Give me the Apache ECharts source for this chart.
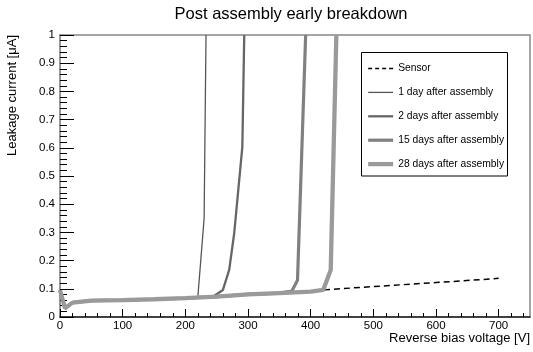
<!DOCTYPE html>
<html>
<head>
<meta charset="utf-8">
<script src="https://cdn.jsdelivr.net/npm/echarts@6/dist/echarts.min.js"></script>
<style>
  html, body { margin: 0; padding: 0; background: #fff; }
  #chart { width: 533px; height: 352px; }
</style>
</head>
<body>
<div id="chart"></div>
<script>
// Reverse bias voltage [V] and leakage current [uA] per measurement
const sensorV = [0, 8, 20, 50, 100, 150, 200, 250, 300, 350, 400, 420, 500, 600, 700];
const sensorI = [0.095, 0.031, 0.051, 0.058, 0.06, 0.063, 0.067, 0.072, 0.08, 0.085, 0.09, 0.096, 0.108, 0.122, 0.137];

const day1V = [0, 8, 20, 50, 100, 150, 200, 220, 230, 233];
const day1I = [0.095, 0.031, 0.051, 0.058, 0.06, 0.063, 0.067, 0.072, 0.35, 1.0];

const day2V = [0, 8, 20, 50, 100, 150, 200, 244, 260, 270, 278, 291, 294];
const day2I = [0.095, 0.031, 0.051, 0.058, 0.06, 0.063, 0.067, 0.072, 0.096, 0.167, 0.297, 0.604, 1.0];

const day15V = [0, 8, 20, 50, 100, 150, 200, 250, 300, 350, 370, 379, 392];
const day15I = [0.095, 0.031, 0.051, 0.058, 0.06, 0.063, 0.067, 0.072, 0.08, 0.085, 0.092, 0.13, 1.0];

const day28V = [0, 8, 20, 50, 100, 150, 200, 250, 300, 350, 400, 420, 432, 441];
const day28I = [0.095, 0.031, 0.051, 0.058, 0.06, 0.063, 0.067, 0.072, 0.08, 0.085, 0.09, 0.096, 0.167, 1.0];

// tick positions
const xMajorTicks = [0, 100, 200, 300, 400, 500, 600, 700];
const xMinorTicks = [20, 40, 60, 80, 120, 140, 160, 180, 220, 240, 260, 280, 320, 340, 360, 380,
  420, 440, 460, 480, 520, 540, 560, 580, 620, 640, 660, 680, 720, 740];

const seriesNames = ["Sensor", "1 day after assembly", "2 days after assembly", "15 days after assembly", "28 days after assembly"];
const seriesColors = ["#000", "#555", "#666", "#808080", "#9a9a9a"];
const seriesWidths = [1.5, 1.3, 2.3, 3.2, 4.3];

const pairs = (xs, ys) => xs.map((x, i) => [x, ys[i]]);

const chart = echarts.init(document.getElementById("chart"));

const lineSeries = (idx, data, type) => ({
  name: seriesNames[idx],
  type: "line",
  xAxisIndex: 0,
  data: data,
  symbol: "none",
  clip: true,
  lineStyle: { color: seriesColors[idx], width: seriesWidths[idx], type: type || "solid" },
  itemStyle: { color: seriesColors[idx] },
});

chart.setOption({
  animation: false,
  textStyle: { fontFamily: "Liberation Sans, Arial, sans-serif" },
  title: {
    text: "Post assembly early breakdown",
    left: 286,
    textAlign: "center",
    top: 1,
    textStyle: { fontSize: 16.5, fontWeight: "normal", color: "#000" },
  },
  grid: {
    left: 60,
    right: 2,
    top: 35,
    bottom: 35,
    show: true,
    borderColor: "#888",
    borderWidth: 1.5,
  },
  legend: {
    orient: "vertical",
    left: 361,
    top: 58.5,
    itemWidth: 25,
    itemHeight: 12,
    itemGap: 13.9,
    itemStyle: { opacity: 0 },
    textStyle: { fontSize: 10.3, color: "#000" },
    data: seriesNames.map((name, i) => ({
      name: name,
      lineStyle: {
        width: seriesWidths[i],
        color: seriesColors[i],
        type: i === 0 ? [4, 3] : "solid",
      },
    })),
  },
  graphic: [
    {
      type: "rect",
      shape: { x: 361.5, y: 52.5, width: 146, height: 123.5 },
      style: { fill: "none", stroke: "#000", lineWidth: 1 },
      z: 10,
    },
  ],
  xAxis: [
    {
      type: "value",
      min: 0,
      max: 750,
      interval: 100,
      position: "bottom",
      name: "Reverse bias voltage [V]",
      nameLocation: "end",
      nameGap: 0,
      nameTextStyle: {
        fontSize: 13,
        color: "#000",
        align: "right",
        verticalAlign: "top",
        padding: [15, 0, 0, 0],
      },
      axisLine: { show: true, lineStyle: { color: "#222", width: 1.5 } },
      axisTick: {
        show: true,
        inside: true,
        length: 8,
        customValues: xMajorTicks,
        lineStyle: { color: "#000", width: 1 },
      },
      axisLabel: {
        customValues: xMajorTicks,
        fontSize: 11.5,
        color: "#000",
        margin: 3,
      },
      splitLine: { show: false },
    },
    {
      // minor ticks only
      type: "value",
      min: 0,
      max: 750,
      position: "bottom",
      axisLine: { show: false },
      axisTick: {
        show: true,
        inside: true,
        length: 4,
        customValues: xMinorTicks,
        lineStyle: { color: "#000", width: 1 },
      },
      axisLabel: { show: false },
      splitLine: { show: false },
    },
  ],
  yAxis: {
    type: "value",
    min: 0,
    max: 1,
    interval: 0.1,
    name: "Leakage current [\u03bcA]",
    nameLocation: "end",
    nameRotate: 90,
    nameGap: 0,
    nameTextStyle: {
      fontSize: 13,
      color: "#000",
      align: "right",
      verticalAlign: "bottom",
      padding: [0, 0, 41, 0],
    },
    axisLine: { show: true, lineStyle: { color: "#999", width: 2 } },
    axisTick: { show: true, inside: true, length: 14, lineStyle: { color: "#000", width: 1 } },
    minorTick: { show: true, splitNumber: 5, length: 7, lineStyle: { color: "#000", width: 1 } },
    axisLabel: { fontSize: 11.5, color: "#000", margin: 5 },
    splitLine: { show: false },
  },
  series: [
    lineSeries(0, pairs(sensorV, sensorI), [6, 4]),
    lineSeries(1, pairs(day1V, day1I)),
    lineSeries(2, pairs(day2V, day2I)),
    lineSeries(3, pairs(day15V, day15I)),
    lineSeries(4, pairs(day28V, day28I)),
  ],
});
</script>
</body>
</html>
